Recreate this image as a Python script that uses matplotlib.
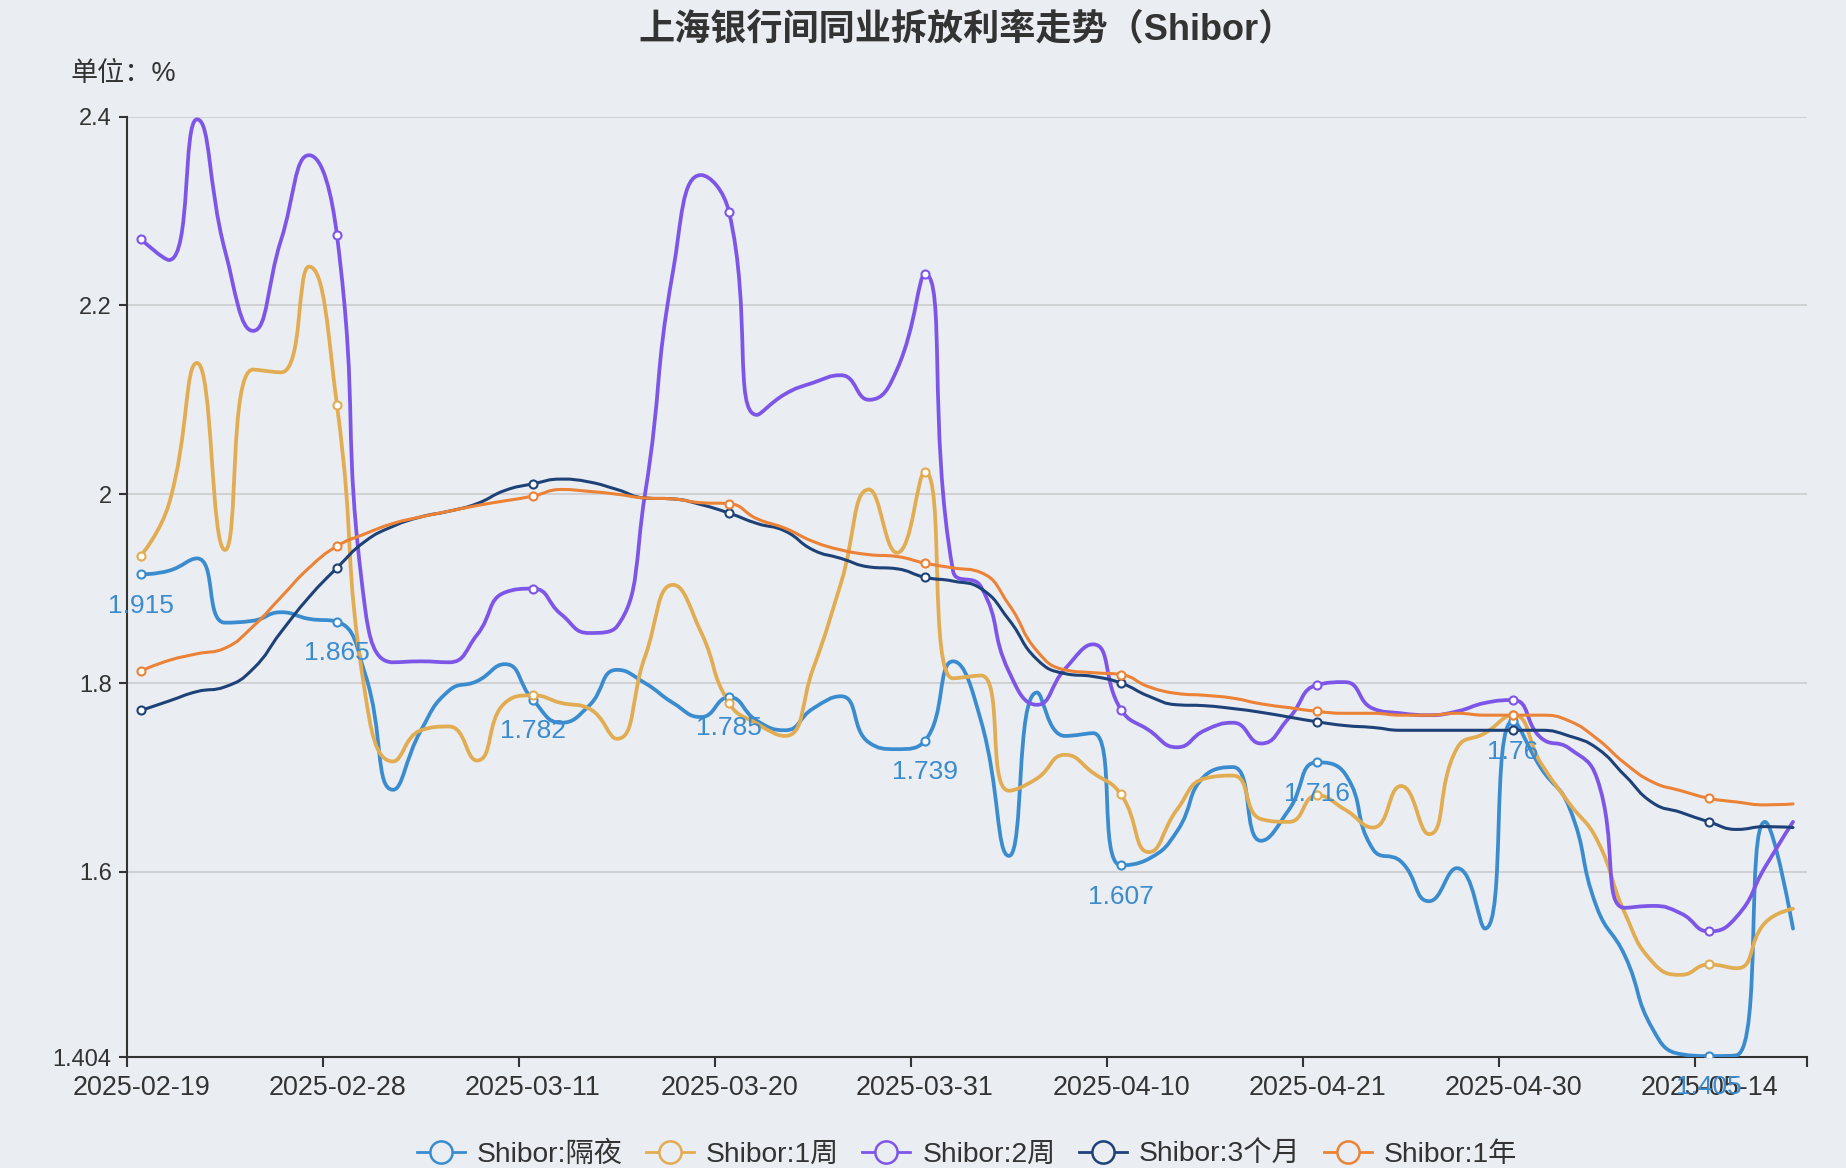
import numpy as np
import matplotlib
matplotlib.use("Agg")
import matplotlib.pyplot as plt
from matplotlib.path import Path
from matplotlib.patches import PathPatch
from matplotlib.lines import Line2D

plt.rcParams['font.family'] = ['Liberation Sans', 'Noto Sans CJK SC', 'DejaVu Sans']

# trading days on the category axis
dates = [
    "2025-02-19", "2025-02-20", "2025-02-21", "2025-02-24", "2025-02-25", "2025-02-26", "2025-02-27",
    "2025-02-28", "2025-03-03", "2025-03-04", "2025-03-05", "2025-03-06", "2025-03-07", "2025-03-10",
    "2025-03-11", "2025-03-12", "2025-03-13", "2025-03-14", "2025-03-17", "2025-03-18", "2025-03-19",
    "2025-03-20", "2025-03-21", "2025-03-24", "2025-03-25", "2025-03-26", "2025-03-27", "2025-03-28",
    "2025-03-31", "2025-04-01", "2025-04-02", "2025-04-03", "2025-04-07", "2025-04-08", "2025-04-09",
    "2025-04-10", "2025-04-11", "2025-04-14", "2025-04-15", "2025-04-16", "2025-04-17", "2025-04-18",
    "2025-04-21", "2025-04-22", "2025-04-23", "2025-04-24", "2025-04-25", "2025-04-28", "2025-04-29",
    "2025-04-30", "2025-05-06", "2025-05-07", "2025-05-08", "2025-05-09", "2025-05-12", "2025-05-13",
    "2025-05-14", "2025-05-15", "2025-05-16", "2025-05-19",
]

# Shibor values (%)
overnight = [1.915, 1.919, 1.932, 1.864, 1.866, 1.875, 1.868, 1.865, 1.81, 1.687,
             1.750, 1.792, 1.802, 1.820, 1.782, 1.758, 1.776, 1.814, 1.800, 1.779,
             1.764, 1.785, 1.760, 1.750, 1.773, 1.786, 1.737, 1.730, 1.739, 1.823,
             1.760, 1.617, 1.790, 1.744, 1.747, 1.607, 1.614, 1.643, 1.702, 1.711,
             1.633, 1.666, 1.716, 1.704, 1.624, 1.611, 1.569, 1.604, 1.540, 1.76,
             1.710, 1.669, 1.562, 1.511, 1.433, 1.407, 1.405, 1.406, 1.653, 1.540]
week1 = [1.935, 1.990, 2.139, 1.941, 2.132, 2.129, 2.241, 2.094, 1.79, 1.717,
         1.750, 1.754, 1.718, 1.779, 1.787, 1.779, 1.773, 1.741, 1.828, 1.904,
         1.854, 1.779, 1.757, 1.744, 1.815, 1.906, 2.005, 1.938, 2.024, 1.805,
         1.808, 1.686, 1.699, 1.724, 1.705, 1.682, 1.621, 1.666, 1.699, 1.702,
         1.656, 1.653, 1.681, 1.666, 1.647, 1.691, 1.640, 1.731, 1.747, 1.766,
         1.715, 1.673, 1.634, 1.556, 1.504, 1.491, 1.502, 1.498, 1.546, 1.561]
week2 = [2.270, 2.248, 2.397, 2.258, 2.173, 2.269, 2.359, 2.274, 1.88, 1.822,
         1.823, 1.822, 1.851, 1.896, 1.900, 1.873, 1.853, 1.860, 2.00, 2.236,
         2.338, 2.299, 2.084, 2.106, 2.118, 2.126, 2.100, 2.132, 2.233, 1.919,
         1.902, 1.812, 1.777, 1.815, 1.841, 1.772, 1.750, 1.732, 1.750, 1.758,
         1.736, 1.763, 1.798, 1.801, 1.773, 1.768, 1.766, 1.770, 1.779, 1.782,
         1.742, 1.731, 1.699, 1.562, 1.564, 1.556, 1.537, 1.553, 1.605, 1.653]
month3 = [1.771, 1.781, 1.791, 1.796, 1.815, 1.854, 1.891, 1.922, 1.950, 1.966,
          1.976, 1.982, 1.990, 2.004, 2.011, 2.016, 2.013, 2.005, 1.996, 1.995,
          1.989, 1.980, 1.969, 1.961, 1.941, 1.932, 1.923, 1.921, 1.912, 1.908,
          1.900, 1.867, 1.825, 1.810, 1.807, 1.800, 1.786, 1.777, 1.776, 1.773,
          1.769, 1.764, 1.759, 1.755, 1.753, 1.750, 1.750, 1.750, 1.750, 1.750,
          1.750, 1.744, 1.731, 1.702, 1.673, 1.663, 1.653, 1.645, 1.648, 1.647]
year1 = [1.813, 1.824, 1.831, 1.837, 1.860, 1.891, 1.922, 1.945, 1.958, 1.969,
         1.976, 1.982, 1.988, 1.993, 1.998, 2.005, 2.003, 2.000, 1.996, 1.995,
         1.991, 1.990, 1.974, 1.964, 1.950, 1.941, 1.936, 1.934, 1.927, 1.922,
         1.917, 1.883, 1.834, 1.814, 1.811, 1.809, 1.796, 1.789, 1.787, 1.784,
         1.778, 1.774, 1.770, 1.768, 1.768, 1.766, 1.766, 1.768, 1.766, 1.766,
         1.766, 1.760, 1.741, 1.715, 1.695, 1.686, 1.678, 1.674, 1.671, 1.672]

series_names = ["Shibor:隔夜", "Shibor:1周", "Shibor:2周", "Shibor:3个月", "Shibor:1年"]
series_values = [overnight, week1, week2, month3, year1]
colors = ["#3a8ccf", "#e2ac52", "#7d56e8", "#1e4177", "#eb8236"]
widths = [2.7, 2.7, 2.7, 2.2, 2.2]

y_min, y_max = 1.404, 2.4
y_ticks = [1.404, 1.6, 1.8, 2.0, 2.2, 2.4]
y_tick_labels = ["1.404", "1.6", "1.8", "2", "2.2", "2.4"]

bg = "#eaedf2"
text_color = "#333333"
W, H = 1846, 1168


def smooth_path(xs, ys, sx, sy, smooth=0.5):
    # bezier path built like the echarts "smooth: true" line (done in pixel units)
    px = np.asarray(xs, float) * sx
    py = np.asarray(ys, float) * sy
    n = len(px)
    verts = [(px[0], py[0])]
    codes = [Path.MOVETO]
    cpx0, cpy0 = px[0], py[0]
    for i in range(1, n):
        x, y = px[i], py[i]
        prev_x, prev_y = px[i - 1], py[i - 1]
        if i + 1 >= n:
            cpx1, cpy1 = x, y
            ncx, ncy = x, y
        else:
            next_x, next_y = px[i + 1], py[i + 1]
            vx, vy = next_x - prev_x, next_y - prev_y
            len_prev = np.hypot(x - prev_x, y - prev_y)
            len_next = np.hypot(next_x - x, next_y - y)
            ratio = len_next / (len_next + len_prev)
            ncx = x + vx * smooth * ratio
            ncy = y + vy * smooth * ratio
            ncx = max(min(ncx, max(next_x, x)), min(next_x, x))
            ncy = max(min(ncy, max(next_y, y)), min(next_y, y))
            vx, vy = ncx - x, ncy - y
            cpx1 = x - vx * len_prev / len_next
            cpy1 = y - vy * len_prev / len_next
            cpx1 = max(min(cpx1, max(prev_x, x)), min(prev_x, x))
            cpy1 = max(min(cpy1, max(prev_y, y)), min(prev_y, y))
            vx, vy = x - cpx1, y - cpy1
            ncx = x + vx * len_next / len_prev
            ncy = y + vy * len_next / len_prev
        verts += [(cpx0, cpy0), (cpx1, cpy1), (x, y)]
        codes += [Path.CURVE4] * 3
        cpx0, cpy0 = ncx, ncy
    verts = np.array(verts)
    verts[:, 0] /= sx
    verts[:, 1] /= sy
    return Path(verts, codes)


fig = plt.figure(figsize=(W / 100, H / 100), dpi=100, facecolor=bg)
ax_left, ax_right, ax_top, ax_bottom = 127, 1807, 116.5, 1057
ax = fig.add_axes([ax_left / W, 1 - ax_bottom / H, (ax_right - ax_left) / W, (ax_bottom - ax_top) / H])
ax.set_facecolor(bg)

n = len(dates)
x = np.arange(n)
ax.set_xlim(-0.5, n - 0.5)
ax.set_ylim(y_min, y_max)

# pixels per data unit, used for the smoothing
sx = (ax_right - ax_left) / n
sy = (ax_bottom - ax_top) / (y_max - y_min)

mark_idx = x[::7]
for name, vals, c, lw in zip(series_names, series_values, colors, widths):
    path = smooth_path(x, vals, sx, sy)
    ax.add_patch(PathPatch(path, facecolor="none", edgecolor=c, lw=lw, capstyle="round",
                           joinstyle="round", zorder=3))
    ax.plot(mark_idx, np.asarray(vals)[mark_idx], linestyle="none", marker="o", ms=5.8,
            mfc="white", mec=c, mew=1.5, zorder=4)

# value labels on the overnight series
for i in mark_idx:
    ax.annotate(f"{overnight[i]:g}", (i, overnight[i]), xytext=(0, -22.5), textcoords="offset points",
                ha="center", va="center", fontsize=19, color=colors[0], zorder=6,
                annotation_clip=False)

# axes styling
for side in ["top", "right"]:
    ax.spines[side].set_visible(False)
for side in ["left", "bottom"]:
    ax.spines[side].set_color(text_color)
    ax.spines[side].set_linewidth(1.5)

ax.set_yticks(y_ticks)
ax.set_yticklabels(y_tick_labels)
ax.tick_params(axis="y", length=6, width=1.5, color=text_color, labelsize=17,
               labelcolor=text_color, pad=5)
for yv in y_ticks[1:]:
    ax.axhline(yv, color="#c9c9c9", lw=1.1, zorder=1)

# ticks sit on the band edges, labels in the band centres
ax.set_xticks(list(np.arange(-0.5, n, 7)) + [n - 0.5])
ax.set_xticklabels([])
ax.set_xticks(mark_idx, minor=True)
ax.set_xticklabels([dates[i] for i in mark_idx], minor=True)
ax.tick_params(axis="x", which="major", length=7, width=1.5, color=text_color)
ax.tick_params(axis="x", which="minor", length=0, labelsize=19.4, labelcolor=text_color, pad=13)

# title and unit
fig.text((ax_left + ax_right) / 2 / W, 1 - 29.5 / H, "上海银行间同业拆放利率走势（Shibor）",
         ha="center", va="center", fontsize=26, fontweight="bold", color=text_color)
fig.text(71 / W, 1 - 74 / H, "单位：%", ha="left", va="center", fontsize=19.5, color=text_color)

# legend
handles = [Line2D([], [], color=c, lw=2, marker="o", ms=16, mfc=bg, mec=c, mew=1.8)
           for c in colors]
fig.legend(handles, series_names, loc="center", bbox_to_anchor=((ax_left + ax_right) / 2 / W, 1 - 1155 / H),
           ncol=5, frameon=False, fontsize=20.3, handlelength=1.7, handletextpad=0.43,
           columnspacing=0.82, labelcolor=text_color)

fig.savefig("out.png", dpi=100, facecolor=bg)
